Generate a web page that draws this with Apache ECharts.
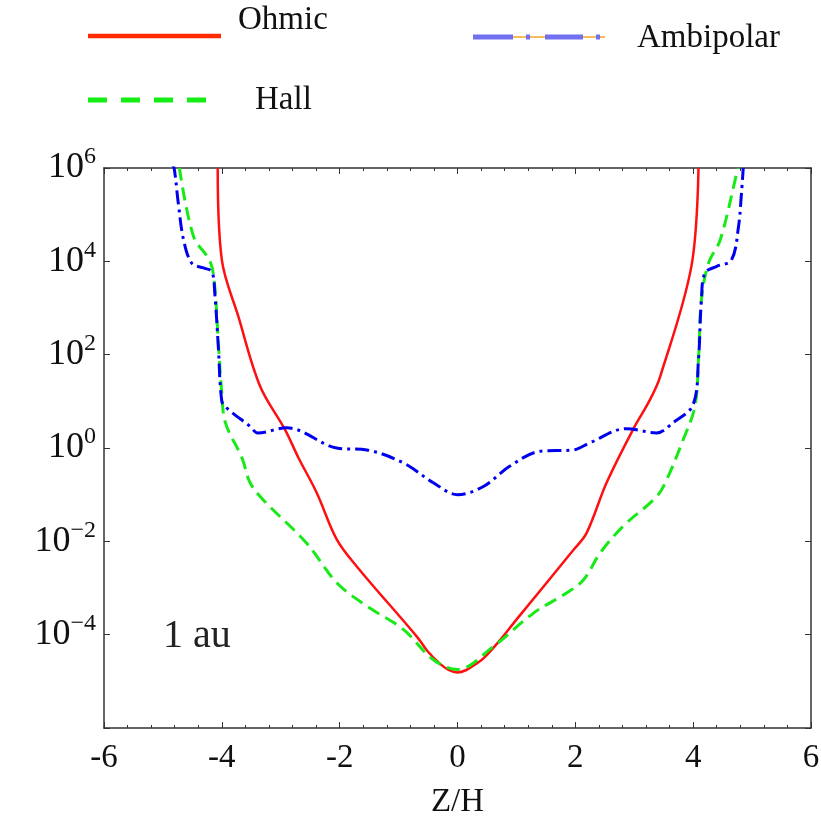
<!DOCTYPE html>
<html><head><meta charset="utf-8">
<script src="https://cdn.jsdelivr.net/npm/echarts@6/dist/echarts.min.js"></script>
<style>html,body{margin:0;padding:0;background:#fff}#c{width:821px;height:816px}</style>
</head><body><div id="c"></div>
<script>
// Z/H positions and resistivity-like values
const ohmicZ = [-4.07, -4.00, -3.72, -3.35, -2.93, -2.70, -2.39, -2.05, -1.71, -0.69, -0.50, -0.30, -0.15, 0.00, 0.15, 0.30, 0.44, 0.70, 1.00, 1.97, 2.19, 2.53, 2.98, 3.27, 3.44, 3.97, 4.09];
const ohmicV = [1e6, 1.07e4, 6.6e2, 2.1e1, 2.5, 0.62, 0.11, 1.1e-2, 2.9e-3, 9.1e-5, 4.3e-5, 2.4e-5, 1.75e-5, 1.55e-5, 1.75e-5, 2.3e-5, 3.1e-5, 7.1e-5, 2.1e-4, 6.6e-3, 1.5e-2, 0.18, 2.5, 11, 34, 7.8e3, 1e6];

const hallZ = [-4.72, -4.48, -4.20, -4.12, -4.06, -4.00, -3.94, -3.66, -3.52, -3.30, -2.56, -2.05, -1.54, -0.92, -0.41, 0.00, 0.61, 1.29, 1.85, 2.14, 2.42, 2.81, 3.38, 3.55, 3.83, 4.03, 4.09, 4.14, 4.26, 4.46, 4.74, 4.76];
const hallV = [1e6, 3.4e4, 1.0e4, 2.9e3, 1.8e2, 15, 3.5, 0.62, 0.18, 7.8e-2, 9.1e-3, 1.3e-3, 4.1e-4, 1.3e-4, 2.9e-5, 1.8e-5, 5.6e-5, 2.9e-4, 7.8e-4, 1.5e-3, 5.6e-3, 2.1e-2, 9.1e-2, 0.21, 1.5, 7.8, 78, 1.5e3, 9.1e3, 2.9e4, 7.8e5, 1e6];

const ambiZ = [-4.85, -4.81, -4.74, -4.65, -4.51, -4.31, -4.17, -4.12, -4.06, -4.00, -3.92, -3.52, -3.39, -2.90, -2.05, -1.54, -0.92, -0.41, 0.00, 0.44, 0.89, 1.40, 1.97, 2.25, 2.87, 3.38, 3.66, 4.00, 4.09, 4.14, 4.20, 4.40, 4.65, 4.77, 4.82, 4.85];
const ambiV = [1.2e6, 1e6, 1.8e5, 2.9e4, 9.1e3, 7.2e3, 6.0e3, 2.1e3, 1.5e2, 10, 7.2, 2.9, 2.1, 2.7, 1.0, 0.91, 0.48, 0.18, 0.10, 0.15, 0.41, 0.85, 0.91, 1.3, 2.6, 2.1, 3.5, 8.5, 78, 1.5e3, 5.6e3, 7.8e3, 1.07e4, 5.6e4, 2.9e5, 1e6];

const xTicks = [-6, -4, -2, 0, 2, 4, 6];
const yExponents = [-6, -4, -2, 0, 2, 4, 6];

const pairs = (zs, vs) => zs.map((z, i) => [z, vs[i]]);
const serif = 'Liberation Serif';
const axisCol = '#333';

const chart = echarts.init(document.getElementById('c'), null, {renderer: 'canvas'});

const xCommon = {
  type: 'value', min: xTicks[0], max: xTicks[xTicks.length - 1], interval: 2,
  axisLine: {show: true, onZero: false, lineStyle: {color: axisCol, width: 1.5}},
  axisTick: {show: true, inside: true, length: 6, lineStyle: {color: axisCol, width: 1}},
  minorTick: {show: true, splitNumber: 5, length: 3, lineStyle: {color: axisCol, width: 1}},
  splitLine: {show: false}, minorSplitLine: {show: false}
};
const yCommon = {
  type: 'log', logBase: 10, min: Math.pow(10, yExponents[0]), max: Math.pow(10, yExponents[yExponents.length - 1]), interval: 2,
  axisLine: {show: true, onZero: false, lineStyle: {color: axisCol, width: 1.5}},
  axisTick: {show: true, inside: true, length: 6, lineStyle: {color: axisCol, width: 1}},
  splitLine: {show: false}
};

chart.setOption({
  animation: false,
  backgroundColor: '#fff',
  grid: {left: 104, top: 168, width: 707, height: 560, containLabel: false, outerBoundsMode: 'none'},
  xAxis: [
    Object.assign({}, xCommon, {
      position: 'bottom',
      axisLabel: {fontFamily: serif, fontSize: 33, color: '#111', margin: 14},
      name: 'Z/H', nameLocation: 'middle', nameGap: 58,
      nameTextStyle: {fontFamily: serif, fontSize: 33, color: '#111'}
    }),
    Object.assign({}, xCommon, {position: 'top', axisLabel: {show: false}})
  ],
  yAxis: [
    Object.assign({}, yCommon, {
      position: 'left',
      axisLabel: {
        margin: 8,
        formatter: function (v) {
          const e = Math.round(Math.log10(v));
          if (e === yExponents[0]) return '';
          return '{b|10}{s|' + (e < 0 ? '\u2212' + (-e) : e) + '}';
        },
        rich: {
          b: {fontFamily: serif, fontSize: 36, color: '#111', verticalAlign: 'bottom', lineHeight: 36},
          s: {fontFamily: serif, fontSize: 24, color: '#111', verticalAlign: 'bottom', lineHeight: 36, padding: [0, 0, 17, 0]}
        }
      }
    }),
    Object.assign({}, yCommon, {position: 'right', axisLabel: {show: false}})
  ],
  series: [
    {name: 'Ohmic', type: 'line', data: pairs(ohmicZ, ohmicV), smooth: 0.35, showSymbol: false,
     lineStyle: {color: '#ff1010', width: 2.5}, z: 2},
    {name: 'Hall', type: 'line', data: pairs(hallZ, hallV), smooth: 0.35, showSymbol: false,
     lineStyle: {color: '#18ea18', width: 3, type: [13, 7]}, z: 3},
    {name: 'Ambipolar', type: 'line', data: pairs(ambiZ, ambiV), smooth: 0.35, showSymbol: false,
     lineStyle: {color: '#0000f0', width: 3, type: [14, 5, 3, 5]}, z: 4}
  ],
  graphic: [
    {type: 'line', shape: {x1: 88, y1: 36, x2: 221, y2: 36}, style: {stroke: '#ff2a00', lineWidth: 4.5}},
    {type: 'text', left: 238, top: 4, style: {text: 'Ohmic', font: '33px "Liberation Serif"', fill: '#111'}},
    {type: 'line', shape: {x1: 88, y1: 100, x2: 207, y2: 100}, style: {stroke: '#14ee14', lineWidth: 5, lineDash: [19, 14]}},
    {type: 'text', left: 255, top: 84, style: {text: 'Hall', font: '33px "Liberation Serif"', fill: '#111'}},
    {type: 'line', shape: {x1: 513, y1: 37, x2: 605, y2: 37}, style: {stroke: '#f5a623', lineWidth: 1.5}},
    {type: 'line', shape: {x1: 473, y1: 37, x2: 513, y2: 37}, style: {stroke: '#7070f0', lineWidth: 5}},
    {type: 'line', shape: {x1: 526, y1: 37, x2: 530, y2: 37}, style: {stroke: '#7070f0', lineWidth: 5}},
    {type: 'line', shape: {x1: 545, y1: 37, x2: 583, y2: 37}, style: {stroke: '#7070f0', lineWidth: 5}},
    {type: 'line', shape: {x1: 596, y1: 37, x2: 600, y2: 37}, style: {stroke: '#7070f0', lineWidth: 5}},
    {type: 'text', left: 637, top: 22, style: {text: 'Ambipolar', font: '33px "Liberation Serif"', fill: '#111'}},
    {type: 'text', left: 163, top: 616, style: {text: '1 au', font: '40px "Liberation Serif"', fill: '#222'}}
  ]
});
</script>
</body></html>
